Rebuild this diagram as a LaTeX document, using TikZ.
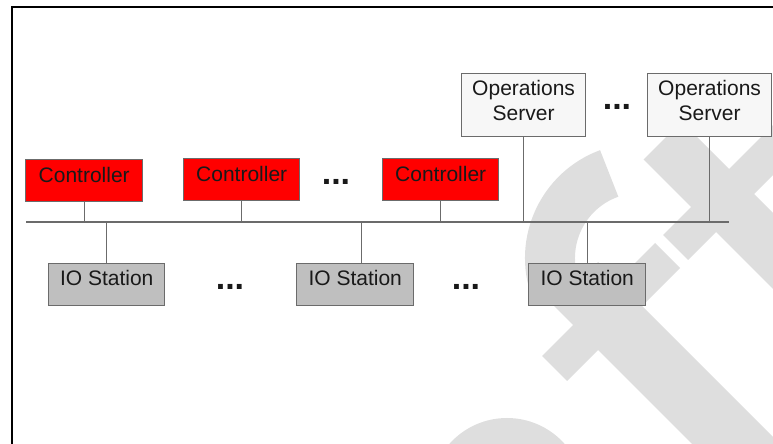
\documentclass[tikz,border=0pt]{standalone}
\usepackage{fontspec}
\setmainfont{Liberation Sans}
\definecolor{wmgray}{gray}{0.87}
\definecolor{linegray}{gray}{0.42}
\definecolor{iogray}{gray}{0.75}
\definecolor{srvgray}{gray}{0.97}

\begin{document}
\begin{tikzpicture}[x=0.5pt, y=-0.5pt,
  every node/.style={font=\fontsize{10.5}{12.5}\selectfont, text=black!90},
  box/.style={draw=linegray, line width=0.7pt, inner sep=0pt, minimum width=58pt, anchor=north west},
  ctrlbox/.style={box, fill=red, text height=11.5pt, text depth=9.5pt},
  iobox/.style={box, fill=iogray, text height=11pt, text depth=10pt},
  srvbox/.style={box, fill=srvgray, line width=0.6pt, minimum width=62pt, align=center,
    text height=23.5pt, text depth=8pt},
  link/.style={linegray, line width=0.6pt},
  dots/.style={font=\fontsize{17}{17}\selectfont\bfseries, anchor=base},
  wm/.style={wmgray}]

  \useasboundingbox (0,0) rectangle (773,444);

  % 1. 背景の透かし
  \begin{scope}
    \clip (12,7) rectangle (773,444);
    \fill[wm] (542,356) -- (567,381) -- (680,268) -- (655,243) -- cycle;
    \fill[wm] (663,235) -- (688,260) -- (874,74) -- (849,49) -- cycle;
    \fill[wm] (643.5,159.5) -- (681.5,121.5) -- (930,370) -- (892,408) -- cycle;
    \fill[wm] (554,306) -- (598,262) -- (818,482) -- (774,526) -- cycle;
    \draw[wm, line width=25pt] (640,258) ++(-110:90) arc[start angle=-110, end angle=-200, radius=90];
    \fill[wm] (507,495) circle (77);
  \end{scope}

  % 2. 枠線
  \draw[black, line width=1pt] (11.5,444) -- (11.5,7) -- (773,7);

  % 3. Controller
  \node[ctrlbox, minimum width=58.5pt] (c1) at (25,159) {Controller};
  \node[ctrlbox] (c2) at (183,158) {Controller};
  \node[ctrlbox] (c3) at (382,158) {Controller};

  % 4. IO Station
  \node[iobox] (io1) at (48,263) {IO Station};
  \node[iobox, minimum width=58.5pt] (io2) at (296,263) {IO Station};
  \node[iobox, minimum width=58.5pt] (io3) at (528,263) {IO Station};

  % 5. Operations Server
  \node[srvbox] (s1) at (461,73) {Operations\\Server};
  \node[srvbox] (s2) at (647,73) {Operations\\Server};

  % 6. バスと接続線
  \coordinate (busL) at (26,222);
  \coordinate (busR) at (729,222);
  \draw[link, line width=0.75pt] (busL) -- (busR);
  \foreach \n in {c1,c2,c3,s1,s2}
    \draw[link] (\n.south) -- (\n.south |- busL);
  \coordinate (io2top) at ([xshift=3pt]io2.north);
  \foreach \n in {io1.north,io2top,io3.north}
    \draw[link] (\n) -- (\n |- busL);

  % 7. 省略記号
  \node[dots] (d1) at (336,185) {...};
  \node[dots] (d2) at (617,109.5) {...};
  \node[dots] (d3) at (230,290) {...};
  \node[dots] (d4) at (466,290) {...};

\end{tikzpicture}
\end{document}
